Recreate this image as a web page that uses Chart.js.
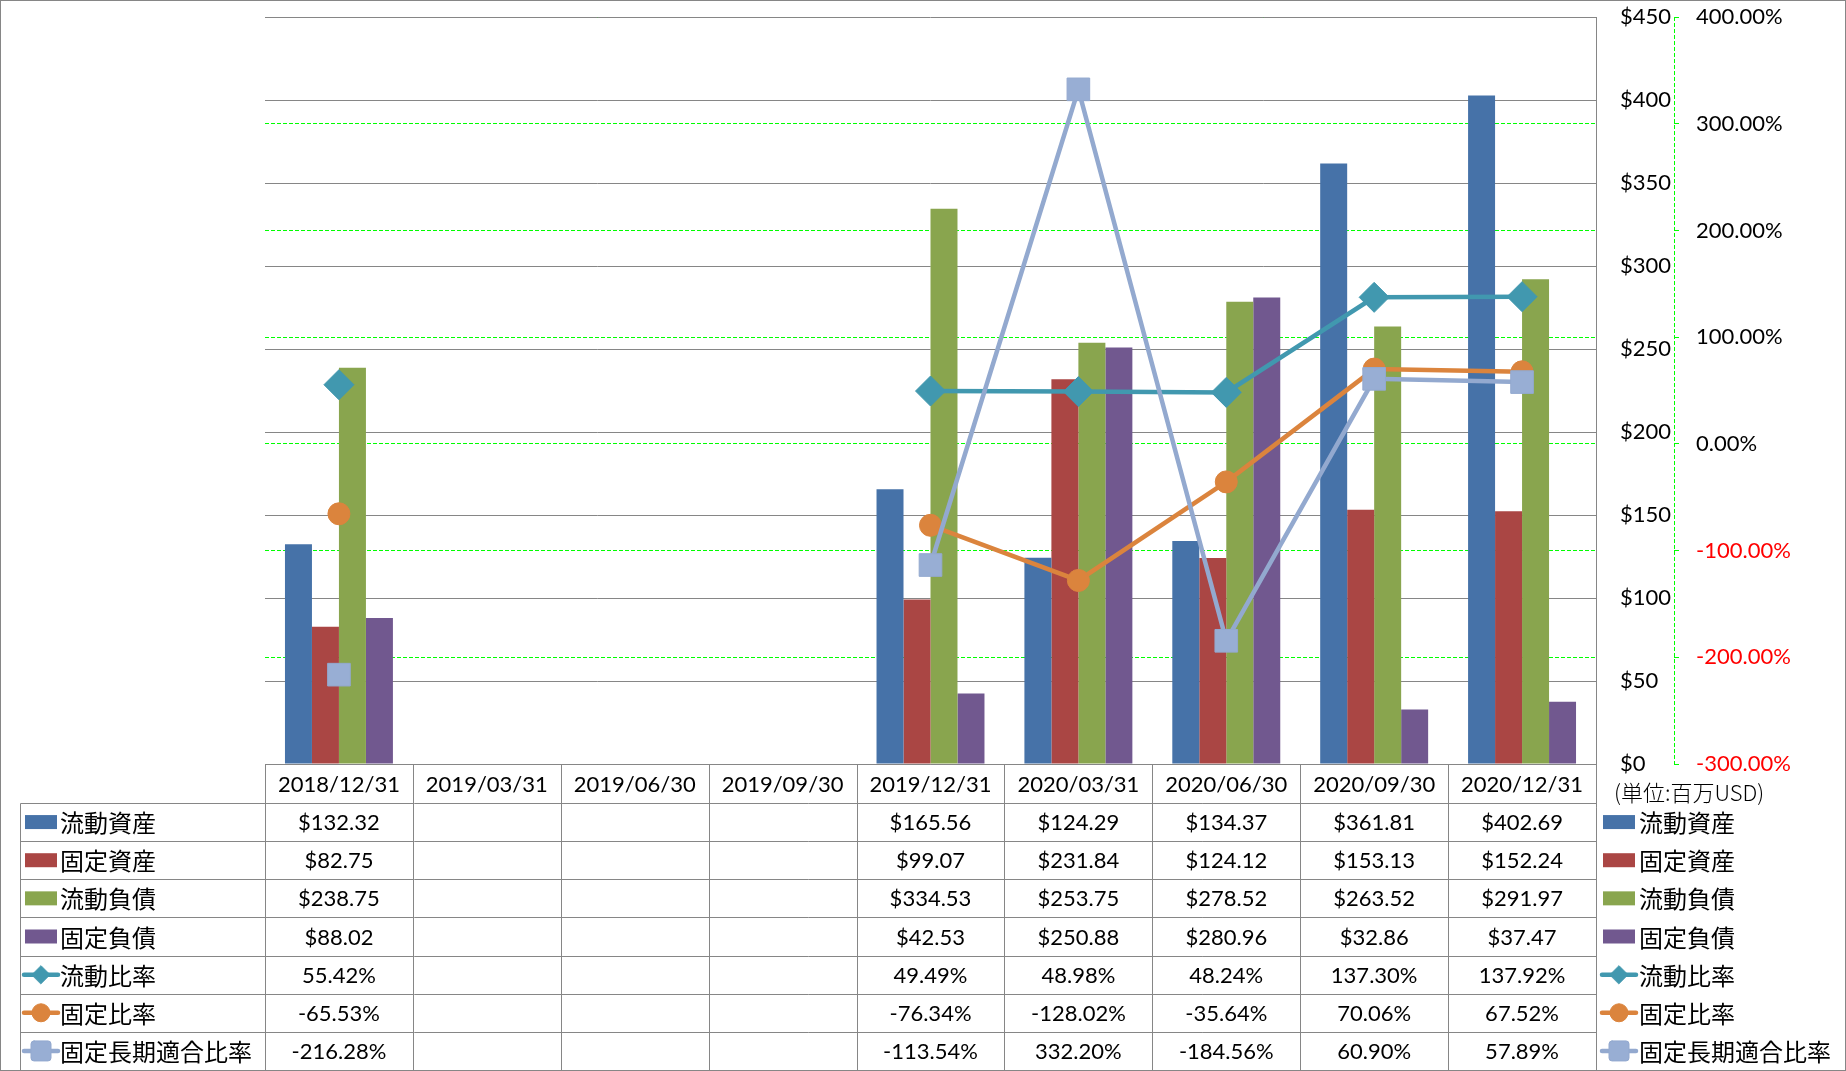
<!DOCTYPE html>
<html>
<head>
<meta charset="utf-8">
<script src="https://cdn.jsdelivr.net/npm/chart.js@4/dist/chart.umd.min.js"></script>
<style>
  html, body { margin: 0; padding: 0; background: #fff; }
  #wrap { width: 1846px; height: 1071px; }
</style>
</head>
<body>
<div id="wrap"><canvas id="myChart" width="1846" height="1071"></canvas></div>
<script>
// categories (quarter ends)
const labels = ['2018/12/31', '2019/03/31', '2019/06/30', '2019/09/30', '2019/12/31', '2020/03/31', '2020/06/30', '2020/09/30', '2020/12/31'];

// bar series (百万USD)
const currentAssets = [132.32, null, null, null, 165.56, 124.29, 134.37, 361.81, 402.69];
const fixedAssets = [82.75, null, null, null, 99.07, 231.84, 124.12, 153.13, 152.24];
const currentLiabilities = [238.75, null, null, null, 334.53, 253.75, 278.52, 263.52, 291.97];
const fixedLiabilities = [88.02, null, null, null, 42.53, 250.88, 280.96, 32.86, 37.47];

// ratio series (%)
const currentRatio = [55.42, null, null, null, 49.49, 48.98, 48.24, 137.30, 137.92];
const fixedRatio = [-65.53, null, null, null, -76.34, -128.02, -35.64, 70.06, 67.52];
const fixedLongTermRatio = [-216.28, null, null, null, -113.54, 332.20, -184.56, 60.90, 57.89];

const seriesNames = ['流動資産', '固定資産', '流動負債', '固定負債', '流動比率', '固定比率', '固定長期適合比率'];
const unitLabel = '(単位:百万USD)';

const latin = 'Lato';
const cjk = '"Noto Sans CJK JP"';
Chart.defaults.font.family = latin + ', ' + cjk;

const gridGray = '#868686';

const barColors = ['#4672a8', '#aa4644', '#89a54e', '#71588f'];
const lineColors = ['#4198af', '#db843d', '#93a9cf'];
const markerFill = ['#4198af', '#db843d', '#98aed4'];
const markerStyles = ['diamond', 'circle', 'square'];

function barSet(i, data) {
    return {
        type: 'bar',
        label: seriesNames[i],
        data: data,
        backgroundColor: barColors[i],
        borderWidth: 0,
        yAxisID: 'y',
        order: 10,
        categoryPercentage: 0.73,
        barPercentage: 1.0
    };
}

function lineSet(i, data, style, radius, order) {
    return {
        type: 'line',
        label: seriesNames[i + 4],
        data: data,
        borderColor: lineColors[i],
        backgroundColor: markerFill[i],
        borderWidth: 4.5,
        pointStyle: style,
        pointRadius: radius,
        pointHoverRadius: radius,
        pointBackgroundColor: markerFill[i],
        pointBorderColor: lineColors[i],
        pointBorderWidth: 1,
        tension: 0,
        fill: false,
        spanGaps: false,
        yAxisID: 'y2',
        order: order
    };
}

// small marker shapes for the legends
function drawMarker(ctx, kind, x, y, color, fill) {
    ctx.save();
    ctx.fillStyle = fill;
    ctx.strokeStyle = color;
    ctx.lineWidth = 1;
    ctx.beginPath();
    if (kind === 'diamond') {
        ctx.moveTo(x - 9, y);
        ctx.lineTo(x, y - 9);
        ctx.lineTo(x + 9, y);
        ctx.lineTo(x, y + 9);
        ctx.closePath();
    } else if (kind === 'circle') {
        ctx.arc(x, y, 9, 0, Math.PI * 2);
    } else {
        ctx.roundRect(x - 10, y - 10, 20, 20, 3);
    }
    ctx.fill();
    ctx.stroke();
    ctx.restore();
}

function drawLegendKey(ctx, i, x, yc) {
    ctx.save();
    if (i < 4) {
        ctx.fillStyle = barColors[i];
        ctx.fillRect(x, yc - 7, 32, 14);
    } else {
        const k = i - 4;
        ctx.strokeStyle = lineColors[k];
        ctx.lineWidth = 4.5;
        ctx.lineCap = 'round';
        ctx.beginPath();
        ctx.moveTo(x - 1, yc);
        ctx.lineTo(x + 33, yc);
        ctx.stroke();
        drawMarker(ctx, markerStyles[k], x + 16, yc, lineColors[k], markerFill[k]);
    }
    ctx.restore();
}

function fmtValue(i, v) {
    if (v === null || v === undefined) return '';
    return i < 4 ? '$' + v.toFixed(2) : v.toFixed(2) + '%';
}

// data table under the plot, plus legends and frame
const tablePlugin = {
    id: 'dataTable',
    beforeDraw(chart) {
        const ctx = chart.ctx;
        ctx.save();
        ctx.fillStyle = '#fff';
        ctx.fillRect(0, 0, chart.width, chart.height);
        ctx.restore();
    },
    afterDraw(chart) {
        const ctx = chart.ctx;
        const area = chart.chartArea;
        const xs = chart.scales.x;
        const y2 = chart.scales.y2;
        const series = chart.data.datasets.map(d => d.data);
        const catW = (area.right - area.left) / labels.length;
        const headTop = area.bottom;
        const headBottom = headTop + 39;
        const tableBottom = 1070;
        const rowH = (tableBottom - headBottom) / seriesNames.length;
        const legLeft = 20.5;

        ctx.save();
        ctx.strokeStyle = gridGray;
        ctx.lineWidth = 1;
        ctx.beginPath();
        // horizontal rules
        ctx.moveTo(area.left, Math.round(headTop) + 0.5);
        ctx.lineTo(area.right, Math.round(headTop) + 0.5);
        for (let r = 0; r <= seriesNames.length; r++) {
            const yy = Math.round(headBottom + r * rowH) + 0.5;
            ctx.moveTo(legLeft, yy);
            ctx.lineTo(area.right, yy);
        }
        // vertical rules
        ctx.moveTo(legLeft, Math.round(headBottom) + 0.5);
        ctx.lineTo(legLeft, tableBottom + 0.5);
        for (let c = 0; c <= labels.length; c++) {
            const xx = Math.round(area.left + c * catW) + 0.5;
            ctx.moveTo(xx, c === labels.length ? area.top : headTop);
            ctx.lineTo(xx, tableBottom + 0.5);
        }
        ctx.stroke();

        // outer frame
        ctx.strokeRect(0.5, 0.5, chart.width - 1, chart.height - 1);

        // secondary axis line (dashed green)
        ctx.strokeStyle = '#00ff00';
        ctx.setLineDash([4, 2]);
        ctx.beginPath();
        ctx.moveTo(Math.round(y2.left) + 0.5, area.top);
        ctx.lineTo(Math.round(y2.left) + 0.5, area.bottom);
        ctx.stroke();
        ctx.setLineDash([]);

        // header labels
        ctx.fillStyle = '#000';
        ctx.textAlign = 'center';
        ctx.textBaseline = 'middle';
        ctx.font = '22px ' + latin;
        labels.forEach((lab, c) => {
            ctx.fillText(lab, xs.getPixelForValue(c), (headTop + headBottom) / 2 + 1);
        });

        // cell values and legend keys
        for (let r = 0; r < seriesNames.length; r++) {
            const yc = headBottom + (r + 0.5) * rowH + 1;
            ctx.font = '22px ' + latin;
            ctx.textAlign = 'center';
            ctx.fillStyle = '#000';
            for (let c = 0; c < labels.length; c++) {
                const s = fmtValue(r, series[r][c]);
                if (s) ctx.fillText(s, xs.getPixelForValue(c), yc);
            }
            // left legend inside table
            drawLegendKey(ctx, r, 25, yc - 1);
            ctx.font = '24px ' + cjk;
            ctx.textAlign = 'left';
            ctx.fillStyle = '#000';
            ctx.fillText(seriesNames[r], 60, yc);
            // right legend
            drawLegendKey(ctx, r, 1603, yc - 1);
            ctx.fillStyle = '#000';
            ctx.fillText(seriesNames[r], 1639, yc);
        }

        // unit note
        ctx.font = '300 22px ' + cjk;
        ctx.textAlign = 'left';
        ctx.fillStyle = '#000';
        ctx.fillText(unitLabel, 1614, 793);
        ctx.restore();
    }
};

const datasets = [
    barSet(0, currentAssets),
    barSet(1, fixedAssets),
    barSet(2, currentLiabilities),
    barSet(3, fixedLiabilities),
    lineSet(0, currentRatio, 'rectRot', 15, 3),
    lineSet(1, fixedRatio, 'circle', 11, 2),
    lineSet(2, fixedLongTermRatio, 'rect', 16, 1)
];

const config = {
    type: 'bar',
    data: { labels: labels, datasets: datasets },
    options: {
        responsive: false,
        animation: false,
        events: [],
        layout: { padding: { left: 265, top: 15, right: 0, bottom: 307 } },
        plugins: {
            legend: { display: false },
            tooltip: { enabled: false },
            title: { display: false }
        },
        scales: {
            x: {
                display: false,
                offset: true
            },
            y: {
                position: 'right',
                min: 0,
                max: 450,
                weight: 0,
                ticks: {
                    stepSize: 50,
                    padding: 24,
                    color: '#000',
                    font: { size: 22, family: latin },
                    callback: v => '$' + v
                },
                grid: { z: -1, color: gridGray, lineWidth: 1, drawTicks: false },
                border: { display: true, color: gridGray },
                afterFit: s => { s.width = 78; s.paddingTop = 0; s.paddingBottom = 0; }
            },
            y2: {
                position: 'right',
                min: -300,
                max: 400,
                weight: 1,
                ticks: {
                    stepSize: 100,
                    padding: 17,
                    font: { size: 22, family: latin },
                    color: c => (c.tick && c.tick.value < 0 ? '#ff0000' : '#000'),
                    callback: v => v.toFixed(2) + '%'
                },
                grid: {
                    z: -2,
                    color: '#00ff00',
                    lineWidth: 1,
                    drawTicks: true,
                    tickLength: 5,
                    tickColor: '#00ff00',
                    tickBorderDash: []
                },
                border: { display: false, dash: [4, 2] },
                afterFit: s => { s.width = 172; s.paddingTop = 0; s.paddingBottom = 0; }
            }
        }
    },
    plugins: [tablePlugin]
};

let myChart = new Chart(document.getElementById('myChart'), config);
</script>
</body>
</html>
